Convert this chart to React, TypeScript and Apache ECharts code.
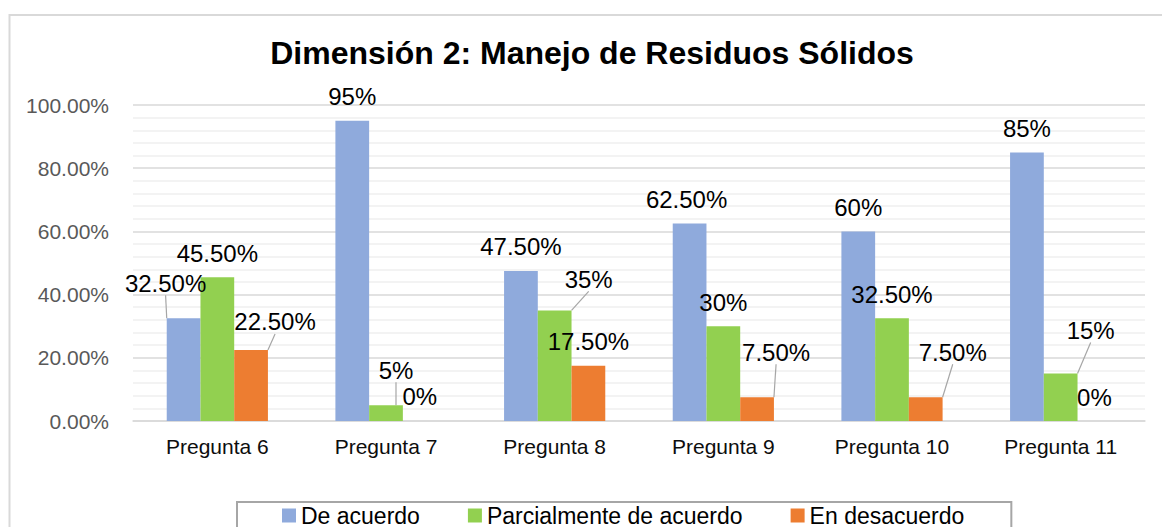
import React, { useEffect, useRef } from "react";
import * as echarts from "echarts";

const titleText = "Dimensión 2: Manejo de Residuos Sólidos";
const categories = ["Pregunta 6", "Pregunta 7", "Pregunta 8", "Pregunta 9", "Pregunta 10", "Pregunta 11"];
const seriesNames = ["De acuerdo", "Parcialmente de acuerdo", "En desacuerdo"];
const deAcuerdo = [32.5, 95, 47.5, 62.5, 60, 85];
const parcialmente = [45.5, 5, 35, 30, 32.5, 15];
const enDesacuerdo = [22.5, 0, 17.5, 7.5, 7.5, 0];
const yMin = 0;
const yMax = 100;
const yStep = 20;
const colors = ["#8faadc", "#92d050", "#ed7d31"];

// label displacement per series / category, [dx, dy] in px (layout only)
const labelShift = [
  [[-18, -11], [0, 0], [0, 0], [-3, 0], [0, 0], [0, 0]],
  [[0, 0], [10, -11], [34, -7], [0, 0], [0, 0], [30, -19]],
  [[24, -4], [0, -1], [0, 0], [19, -21], [27, -21], [0, 0]],
];
const leaderLines = [
  [true, false, false, false, false, false],
  [false, true, true, false, false, true],
  [true, false, false, true, true, false],
];

const FONT = "'Liberation Sans', Arial, sans-serif";

const fmtPct = (v: number) => (Number.isInteger(v) ? v.toFixed(0) : v.toFixed(2)) + "%";

export default function App() {
  const ref = useRef<HTMLDivElement>(null);
  useEffect(() => {
    if (!ref.current) return;
    const chart = echarts.init(ref.current, undefined, { renderer: "svg" });
    const allSeries = [deAcuerdo, parcialmente, enDesacuerdo];
    chart.setOption({
      animation: false,
      backgroundColor: "#ffffff",
      textStyle: { fontFamily: FONT },
      graphic: [
        {
          type: "rect",
          shape: { x: 9.5, y: 15, width: 1200, height: 600 },
          style: { fill: "none", stroke: "#d9d9d9", lineWidth: 2 },
          silent: true,
          z: -10,
        },
      ],
      title: {
        text: titleText,
        left: 592,
        top: 37,
        textAlign: "center",
        padding: 0,
        textStyle: { fontFamily: FONT, fontSize: 32, fontWeight: "bold", color: "#000000" },
      },
      legend: {
        data: seriesNames,
        left: 237,
        top: 502,
        padding: [2, 47, 3, 45],
        itemGap: 48,
        itemWidth: 14,
        itemHeight: 14,
        icon: "rect",
        borderColor: "#a6a6a6",
        borderWidth: 2,
        textStyle: { fontFamily: FONT, fontSize: 23, lineHeight: 20, color: "#000000" },
      },
      grid: { left: 133, right: 17, top: 105, bottom: 106, containLabel: false },
      xAxis: {
        type: "category",
        data: categories,
        axisLine: { lineStyle: { color: "#d9d9d9", width: 1.5 } },
        axisTick: { show: false },
        axisLabel: { fontFamily: FONT, fontSize: 21, color: "#0d0d0d", margin: 15 },
      },
      yAxis: {
        type: "value",
        min: yMin,
        max: yMax,
        interval: yStep,
        axisLine: { show: false },
        axisTick: { show: false },
        axisLabel: {
          fontFamily: FONT,
          fontSize: 21,
          color: "#595959",
          margin: 24,
          formatter: (v: number) => v.toFixed(2) + "%",
        },
        splitLine: { lineStyle: { color: "#d9d9d9", width: 1.5 } },
        minorTick: { show: false, splitNumber: 5 },
        minorSplitLine: { show: true, lineStyle: { color: "#efefef", width: 1.5 } },
      },
      series: allSeries.map((vals, si) => ({
        name: seriesNames[si],
        type: "bar",
        barGap: "0%",
        barCategoryGap: "40%",
        itemStyle: { color: colors[si] },
        label: {
          show: true,
          position: "top",
          distance: 12,
          fontFamily: FONT,
          fontSize: 24,
          color: "#000000",
          formatter: (p: any) => fmtPct(p.value),
        },
        labelLine: { show: false, lineStyle: { color: "#a6a6a6", width: 1.2 } },
        labelLayout: (params: any) => {
          const s = labelShift[params.seriesIndex][params.dataIndex];
          return { dx: s[0], dy: s[1] };
        },
        data: vals.map((v, i) => ({
          value: v,
          labelLine: { show: leaderLines[si][i] },
        })),
      })),
    });
    return () => chart.dispose();
  }, []);
  return (
    <div
      ref={ref}
      style={{ position: "absolute", left: 0, top: 0, width: 1162, height: 527, background: "#fff" }}
    />
  );
}
